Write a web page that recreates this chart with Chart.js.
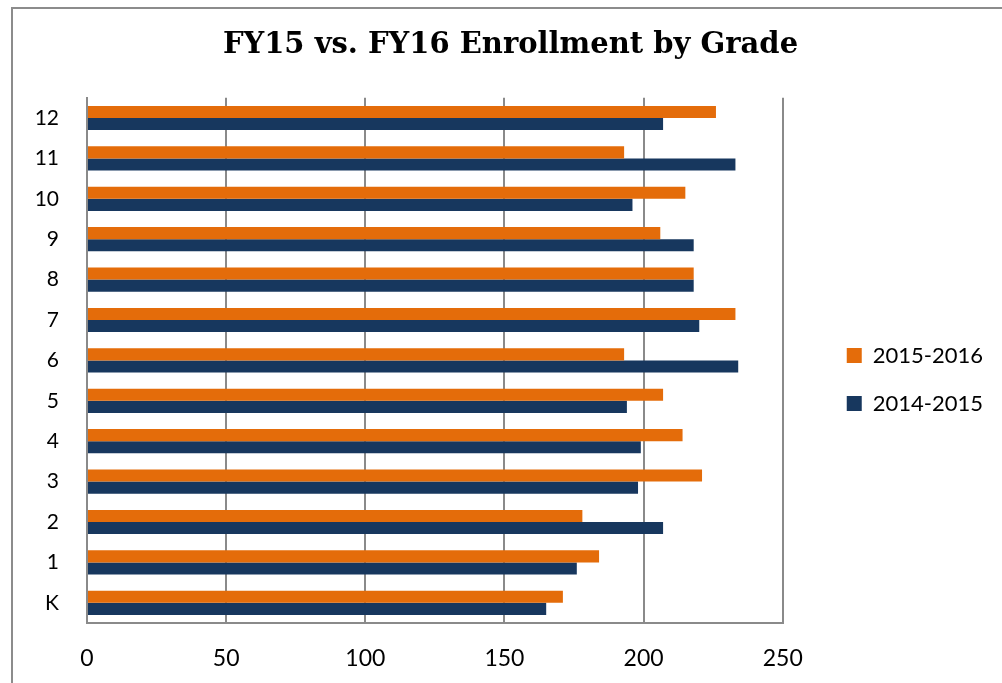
<!DOCTYPE html>
<html>
<head>
<meta charset="utf-8">
<script src="https://cdn.jsdelivr.net/npm/chart.js@4.4.0/dist/chart.umd.min.js"></script>
<style>
  html, body { margin: 0; padding: 0; background: #fff; overflow: hidden; }
  #frame { position: absolute; left: 11px; top: 7px; width: 1200px; height: 900px; border: 2px solid #8c8c8c; box-sizing: border-box; }
  #chart { position: absolute; left: 0; top: 0; }
</style>
</head>
<body>
<div id="frame"></div>
<canvas id="chart" width="1002" height="683"></canvas>
<script>
// grades listed top to bottom as they appear on the chart
const grades = ['12', '11', '10', '9', '8', '7', '6', '5', '4', '3', '2', '1', 'K'];
const fy16 = [226, 193, 215, 206, 218, 233, 193, 207, 214, 221, 178, 184, 171];
const fy15 = [207, 233, 196, 218, 218, 220, 234, 194, 199, 198, 207, 176, 165];
const xTicks = [0, 50, 100, 150, 200, 250];

const GRID = '#8a8a8a';
const LEGEND_GAP = 38;
const LEGEND_DROP = 38;
const TITLE_SHIFT = 14;

function nudge(box, dx, dy) {
  const draw = box.draw;
  box.draw = function (area) {
    this.ctx.save();
    this.ctx.translate(dx, dy);
    draw.call(this, area);
    this.ctx.restore();
  };
}

// legend sits further from the plot and the title a bit right, like the original
const placement = {
  id: 'placement',
  beforeInit(chart) {
    const lg = chart.legend;
    if (lg) {
      const fit = lg.fit;
      lg.fit = function () {
        fit.call(this);
        this.width += LEGEND_GAP;
      };
      nudge(lg, LEGEND_GAP, LEGEND_DROP);
    }
    if (chart.titleBlock) nudge(chart.titleBlock, TITLE_SHIFT, 0);
  }
};

new Chart(document.getElementById('chart'), {
  type: 'bar',
  data: {
    labels: grades,
    datasets: [
      { label: '2015-2016', data: fy16, backgroundColor: '#E46C0A' },
      { label: '2014-2015', data: fy15, backgroundColor: '#17375E' }
    ]
  },
  options: {
    indexAxis: 'y',
    responsive: false,
    animation: false,
    layout: { padding: { left: 0, right: 9, top: 0, bottom: 0 } },
    datasets: {
      bar: { categoryPercentage: 0.6, barPercentage: 1.0, borderWidth: 0 }
    },
    scales: {
      x: {
        min: xTicks[0],
        max: xTicks[xTicks.length - 1],
        afterBuildTicks: (s) => { s.ticks = xTicks.map((v) => ({ value: v })); },
        afterFit: (s) => { s.height = 60; },
        grid: { color: GRID, lineWidth: 2, drawTicks: false },
        border: { color: GRID, width: 2 },
        ticks: { color: '#000', padding: 22, font: { family: 'Lato', size: 23 } }
      },
      y: {
        afterFit: (s) => { s.width = 87; },
        grid: { display: false, drawTicks: false },
        border: { color: GRID, width: 2 },
        ticks: { color: '#000', padding: 28, font: { family: 'Lato', size: 21 } }
      }
    },
    plugins: {
      title: {
        display: true,
        text: 'FY15 vs. FY16 Enrollment by Grade',
        color: '#000',
        font: { family: 'DejaVu Serif', size: 29, weight: 'bold' },
        padding: { top: 28, bottom: 35 }
      },
      legend: {
        position: 'right',
        labels: {
          color: '#000',
          boxWidth: 15,
          boxHeight: 15,
          padding: 26,
          font: { family: 'Lato', size: 22 }
        }
      },
      tooltip: { enabled: false }
    }
  },
  plugins: [placement]
});
</script>
</body>
</html>
